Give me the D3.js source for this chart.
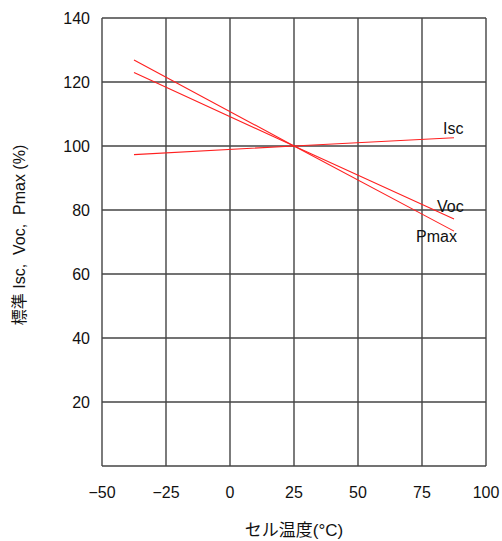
<!DOCTYPE html>
<html>
<head>
<meta charset="utf-8">
<script src="https://cdn.jsdelivr.net/npm/d3@7"></script>
<style>
  body { margin: 0; background: #fff; }
  text { font-family: Arial, "Liberation Sans", "Noto Sans CJK JP", sans-serif; fill: #111; }
</style>
</head>
<body>
<div id="chart"></div>
<script>
// chart data
var temps = [-37.5, 25, 87.5];
var isc = [97.3, 100, 102.6];
var voc = [123.0, 100, 77.2];
var pmax = [126.9, 100, 73.4];
var xTicks = [-50, -25, 0, 25, 50, 75, 100];
var yTicks = [20, 40, 60, 80, 100, 120, 140];
var seriesNames = ['Isc', 'Voc', 'Pmax'];

var svg = d3.select('#chart').append('svg')
  .attr('width', 502)
  .attr('height', 541);

var x = d3.scaleLinear().domain([-50, 100]).range([102, 486]);
var y = d3.scaleLinear().domain([0, 140]).range([466, 18]);

// grid
var grid = svg.append('g').attr('stroke', '#444').attr('stroke-width', 1.4);
grid.selectAll('.vx').data(xTicks).enter().append('line')
  .attr('x1', function(d) { return x(d); })
  .attr('x2', function(d) { return x(d); })
  .attr('y1', y(0)).attr('y2', y(140));
grid.selectAll('.hy').data([0].concat(yTicks)).enter().append('line')
  .attr('x1', x(-50)).attr('x2', x(100))
  .attr('y1', function(d) { return y(d); })
  .attr('y2', function(d) { return y(d); });

// tick labels
svg.selectAll('.xl').data(xTicks).enter().append('text')
  .attr('x', function(d) { return x(d); })
  .attr('y', 498)
  .attr('text-anchor', 'middle')
  .attr('font-size', 16)
  .text(function(d) { return d < 0 ? '\u2212' + Math.abs(d) : d; });

svg.selectAll('.yl').data(yTicks).enter().append('text')
  .attr('x', 90)
  .attr('y', function(d) { return y(d) + 6; })
  .attr('text-anchor', 'end')
  .attr('font-size', 16)
  .text(function(d) { return d; });

// axis titles
svg.append('text')
  .attr('x', 294).attr('y', 536)
  .attr('text-anchor', 'middle')
  .attr('font-size', 17)
  .text('セル温度(°C)');

svg.append('text')
  .attr('transform', 'translate(25,235) rotate(-90)')
  .attr('text-anchor', 'middle')
  .attr('font-size', 16)
  .text('標準 Isc,\u00a0 Voc,\u00a0 Pmax (%)');

// series lines
var line = d3.line()
  .x(function(d, i) { return x(temps[i]); })
  .y(function(d) { return y(d); });

[isc, voc, pmax].forEach(function(s) {
  svg.append('path')
    .datum(s)
    .attr('d', line)
    .attr('fill', 'none')
    .attr('stroke', '#ff2020')
    .attr('stroke-width', 1.1);
});

// series labels
svg.append('text').attr('x', 443).attr('y', 134).attr('font-size', 16)
  .attr('font-family', '"Liberation Serif", serif').text('I')
  .append('tspan').attr('font-family', 'Arial, sans-serif').text('sc');
svg.append('text').attr('x', 437).attr('y', 212).attr('font-size', 16).text(seriesNames[1]);
svg.append('text').attr('x', 416).attr('y', 242).attr('font-size', 16).text(seriesNames[2]);
</script>
</body>
</html>
